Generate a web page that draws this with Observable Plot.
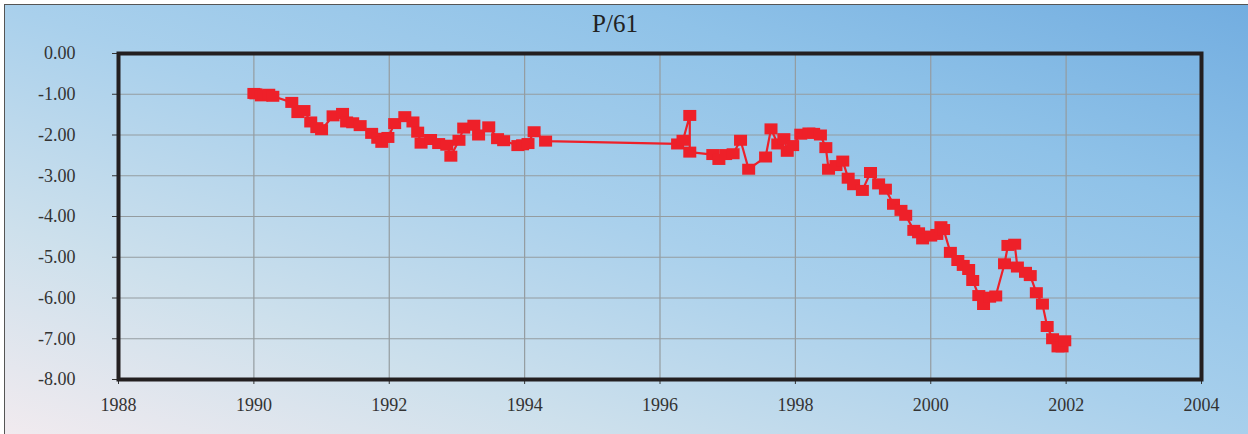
<!DOCTYPE html>
<html>
<head>
<meta charset="utf-8">
<script src="https://cdn.jsdelivr.net/npm/d3@7"></script>
<script src="https://cdn.jsdelivr.net/npm/@observablehq/plot@0.6"></script>
<style>
  html, body { margin: 0; padding: 0; background: #fff; }
  #wrap { position: relative; width: 1248px; height: 434px; overflow: hidden; background: #fff; }
  #bg { position: absolute; left: 4px; top: 4px; width: 1250px; height: 440px;
        border-left: 1px solid #555; border-top: 1px solid #555;
        background: linear-gradient(to top right, #f3ebef 0%, #cde0ec 25%, #a9d0ec 50%, #8fc2e8 75%, #72ade0 100%); }
  #title { position: absolute; top: 10px; left: 615px; transform: translateX(-50%);
           font-family: "Liberation Serif", serif; font-size: 25px; color: #222; }
  #chart { position: absolute; left: 0; top: 0; }
</style>
</head>
<body>
<div id="wrap">
  <div id="bg"></div>
  <div id="title">P/61</div>
  <div id="chart"></div>
</div>
<script>
const years = [
  1990.00, 1990.03, 1990.11, 1990.15, 1990.22, 1990.28, 1990.56, 1990.65, 1990.74, 1990.84,
  1990.93, 1991.00, 1991.17, 1991.31, 1991.37, 1991.46, 1991.57, 1991.74, 1991.83, 1991.89,
  1991.98, 1992.08, 1992.23, 1992.35, 1992.42, 1992.47, 1992.61, 1992.73, 1992.85, 1992.91,
  1993.03, 1993.10, 1993.25, 1993.32, 1993.47, 1993.60, 1993.69, 1993.90, 1993.97, 1994.05,
  1994.14, 1994.31,
  1996.26, 1996.34, 1996.44, 1996.44, 1996.78, 1996.87, 1996.97, 1997.08, 1997.19, 1997.31,
  1997.56, 1997.64, 1997.74, 1997.83, 1997.88, 1997.96, 1998.08, 1998.20, 1998.27, 1998.37,
  1998.45, 1998.49, 1998.60, 1998.70, 1998.78, 1998.86, 1998.99, 1999.11, 1999.23, 1999.33,
  1999.45, 1999.56, 1999.63, 1999.75, 1999.82, 1999.88, 2000.00, 2000.09, 2000.15, 2000.19,
  2000.29, 2000.40, 2000.48, 2000.56, 2000.62, 2000.71, 2000.78, 2000.87, 2000.96, 2001.09,
  2001.14, 2001.24, 2001.28, 2001.40, 2001.47, 2001.56, 2001.65, 2001.72, 2001.80, 2001.88,
  2001.94, 2001.98
];
const values = [
  -0.98, -0.99, -1.04, -1.02, -1.00, -1.05, -1.20, -1.45, -1.40, -1.68,
  -1.82, -1.87, -1.53, -1.47, -1.68, -1.70, -1.77, -1.96, -2.08, -2.18,
  -2.06, -1.72, -1.55, -1.68, -1.93, -2.20, -2.11, -2.21, -2.25, -2.52,
  -2.13, -1.83, -1.76, -2.00, -1.80, -2.09, -2.14, -2.26, -2.24, -2.21,
  -1.92, -2.15,
  -2.22, -2.13, -1.52, -2.42, -2.48, -2.60, -2.48, -2.46, -2.13, -2.84,
  -2.54, -1.85, -2.22, -2.09, -2.40, -2.26, -1.98, -1.95, -1.96, -2.00,
  -2.31, -2.84, -2.75, -2.64, -3.06, -3.22, -3.36, -2.92, -3.20, -3.33,
  -3.70, -3.85, -3.97, -4.34, -4.40, -4.55, -4.48, -4.44, -4.25, -4.32,
  -4.88, -5.08, -5.20, -5.30, -5.57, -5.94, -6.16, -5.98, -5.95, -5.16,
  -4.71, -4.68, -5.24, -5.37, -5.45, -5.87, -6.15, -6.70, -7.00, -7.20,
  -7.20, -7.05
];
const xTicks = [1988, 1990, 1992, 1994, 1996, 1998, 2000, 2002, 2004];
const yTicks = [0, -1, -2, -3, -4, -5, -6, -7, -8];

const data = years.map((y, i) => ({year: y, value: values[i]}));

const rectSymbol = {
  draw(context) { context.rect(-6.5, -5.5, 13, 11); }
};

const chart = Plot.plot({
  width: 1248,
  height: 434,
  marginLeft: 118,
  marginRight: 47,
  marginTop: 53,
  marginBottom: 55,
  style: {fontFamily: "'Liberation Serif', serif", fontSize: "18px", color: "#333", background: "transparent", overflow: "visible"},
  x: {domain: [1988, 2004], label: null},
  y: {domain: [-8, 0], label: null},
  marks: [
    Plot.gridX(xTicks, {stroke: "#949ca0", strokeOpacity: 1, strokeWidth: 1.2}),
    Plot.gridY(yTicks, {stroke: "#949ca0", strokeOpacity: 1, strokeWidth: 1.2}),
    Plot.axisX({ticks: xTicks, tickFormat: d => String(d), tickSize: 5, tickPadding: 14, stroke: "#333", fill: "#333", label: null}),
    Plot.axisY({ticks: yTicks, tickFormat: d => d.toFixed(2), tickSize: 6, tickPadding: 37, stroke: "#333", fill: "#333", label: null}),
    Plot.line(data, {x: "year", y: "value", stroke: "#ee2029", strokeWidth: 2.2}),
    Plot.dot(data, {x: "year", y: "value", symbol: rectSymbol, r: 5, fill: "#ee2029", stroke: "none"}),
    Plot.frame({stroke: "#231f20", strokeWidth: 4})
  ]
});
document.getElementById("chart").appendChild(chart);
</script>
</body>
</html>
